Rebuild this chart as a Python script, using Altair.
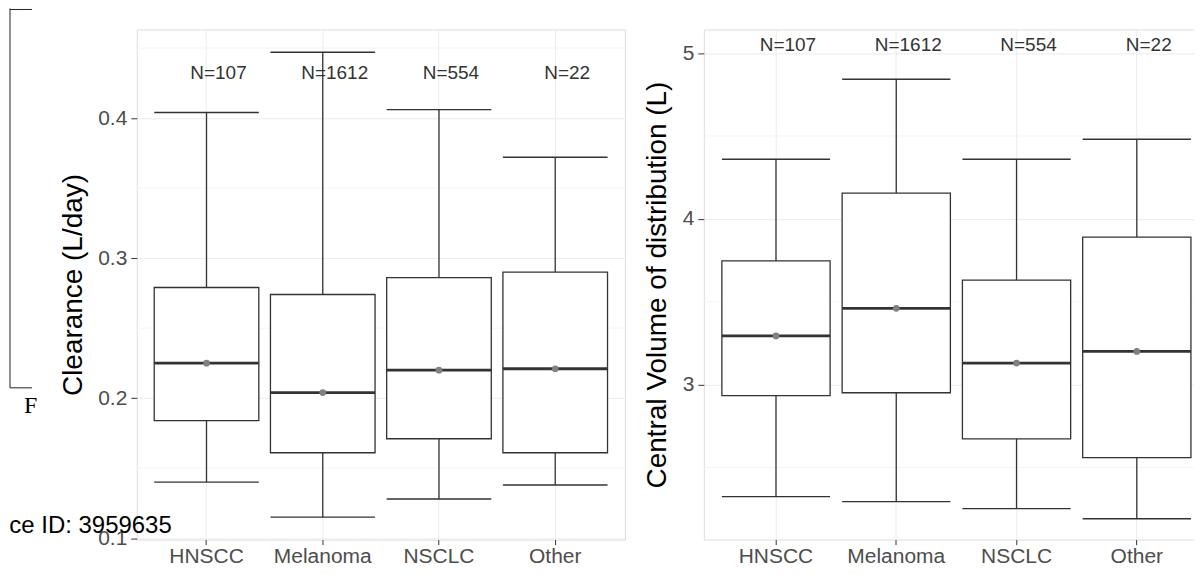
import altair as alt
import pandas as pd

groups = ["HNSCC", "Melanoma", "NSCLC", "Other"]
n_labels = ["N=107", "N=1612", "N=554", "N=22"]

# Clearance (L/day)
cl_low = [0.140, 0.115, 0.128, 0.138]
cl_q1 = [0.184, 0.161, 0.171, 0.161]
cl_med = [0.225, 0.204, 0.220, 0.221]
cl_q3 = [0.279, 0.274, 0.286, 0.290]
cl_high = [0.404, 0.447, 0.406, 0.372]
cl_mean = [0.225, 0.204, 0.220, 0.221]
cl_ticks = [0.1, 0.2, 0.3, 0.4]
cl_minor = [0.15, 0.25, 0.35, 0.45]

# Central volume of distribution (L)
vc_low = [2.324, 2.294, 2.252, 2.191]
vc_q1 = [2.933, 2.951, 2.673, 2.559]
vc_med = [3.294, 3.460, 3.130, 3.200]
vc_q3 = [3.746, 4.155, 3.631, 3.890]
vc_high = [4.360, 4.842, 4.360, 4.480]
vc_mean = [3.294, 3.460, 3.130, 3.200]
vc_ticks = [3, 4, 5]
vc_minor = [2.5, 3.5, 4.5]

FONT = "Liberation Sans"
DARK = "#333333"


def panel(low, q1, med, q3, high, mean, title, domain, ticks, minor, fmt,
          width, height, label_y, title_x, pad_outer=0.1, extra=None):
    df = pd.DataFrame({"group": groups, "low": low, "q1": q1, "med": med,
                       "q3": q3, "high": high, "mean": mean, "n": n_labels})
    step = width / (4 + 2 * pad_outer)
    bw = 0.9 * step
    xscale = alt.Scale(paddingInner=0, paddingOuter=pad_outer)
    xaxis = alt.Axis(title=None, labelFontSize=21, labelColor="#4d4d4d",
                     labelFont=FONT, tickSize=5, tickColor=DARK,
                     labelPadding=1, domain=False, grid=True,
                     gridColor="#ebebeb", labelAngle=0)
    x = alt.X("group:N", sort=groups, scale=xscale, axis=xaxis)
    yscale = alt.Scale(domain=domain, nice=False, zero=False)
    yaxis = alt.Axis(title=title, values=ticks, format=fmt, labelFontSize=21,
                     labelColor="#4d4d4d", labelFont=FONT, tickSize=6,
                     tickColor=DARK, labelPadding=4, domain=False, grid=True,
                     gridColor="#ebebeb", titleFontSize=28,
                     titleFontWeight="normal", titleColor="black",
                     titleFont=FONT, titleX=title_x, titleY=height / 2,
                     titleBaseline="middle", titleAngle=-90)

    def Y(field):
        return alt.Y(field, scale=yscale, axis=yaxis)

    base = alt.Chart(df)
    minor_grid = alt.Chart(pd.DataFrame({"v": minor})).mark_rule(
        color="#f4f4f4", strokeWidth=1).encode(y=Y("v:Q"))
    whisk = base.mark_rule(color=DARK, strokeWidth=1.3).encode(
        x=x, y=Y("low:Q"), y2="high:Q")
    box = base.mark_bar(width=alt.RelativeBandSize(0.9), fill="white",
                        stroke=DARK, strokeWidth=1.3).encode(
        x=x, y=Y("q1:Q"), y2="q3:Q")
    cap_lo = base.mark_tick(size=bw, thickness=1.4, color=DARK, opacity=1).encode(
        x=x, y=Y("low:Q"))
    cap_hi = base.mark_tick(size=bw, thickness=1.4, color=DARK, opacity=1).encode(
        x=x, y=Y("high:Q"))
    median = base.mark_tick(size=bw, thickness=2.8, color=DARK, opacity=1).encode(
        x=x, y=Y("med:Q"))
    meanpt = base.mark_point(filled=True, color="#808080", size=45,
                             opacity=1).encode(x=x, y=Y("mean:Q"))
    ntext = base.mark_text(fontSize=19, font=FONT, color=DARK, dx=12,
                           baseline="middle").encode(
        x=x, y=alt.value(label_y), text="n:N")
    layers = [minor_grid, whisk, box, cap_lo, cap_hi, median, meanpt, ntext]
    if extra:
        layers += extra
    return alt.layer(*layers).properties(width=width, height=height)


one = alt.Data(values=[{"k": 1}])
artifacts = [
    alt.Chart(one).mark_rule(color="#222222", strokeWidth=1).encode(
        x=alt.value(-127), y=alt.value(-21), y2=alt.value(359)),
    alt.Chart(one).mark_rule(color="#222222", strokeWidth=1).encode(
        x=alt.value(-127), x2=alt.value(-105), y=alt.value(-20)),
    alt.Chart(one).mark_rule(color="#222222", strokeWidth=1).encode(
        x=alt.value(-127), x2=alt.value(-105), y=alt.value(359)),
    alt.Chart(one).mark_text(font="Liberation Serif", fontSize=24,
                             align="left", baseline="alphabetic",
                             color="black").encode(
        x=alt.value(-113), y=alt.value(384), text=alt.value("F")),
    alt.Chart(one).mark_text(font=FONT, fontSize=24, align="right",
                             baseline="alphabetic", color="black").encode(
        x=alt.value(35), y=alt.value(504), text=alt.value("ce ID: 3959635")),
]

left = panel(cl_low, cl_q1, cl_med, cl_q3, cl_high, cl_mean,
             "Clearance (L/day)", [0.099, 0.4633], cl_ticks, cl_minor, ".1f",
             489, 511, 44, -63, extra=artifacts)
right = panel(vc_low, vc_q1, vc_med, vc_q3, vc_high, vc_mean,
              "Central Volume of distribution (L)", [2.065, 5.143], vc_ticks,
              vc_minor, "d", 506, 511, 16, -46, pad_outer=0.1)

chart = alt.hconcat(left, right, spacing=79, bounds="flush").properties(
    padding={"left": 0, "top": -1, "right": -16, "bottom": 0},
    background="white",
).configure_view(stroke="#707070", strokeWidth=1.2).configure(font=FONT)

chart.save("out.html", embed_options={"renderer": "svg", "actions": False})
